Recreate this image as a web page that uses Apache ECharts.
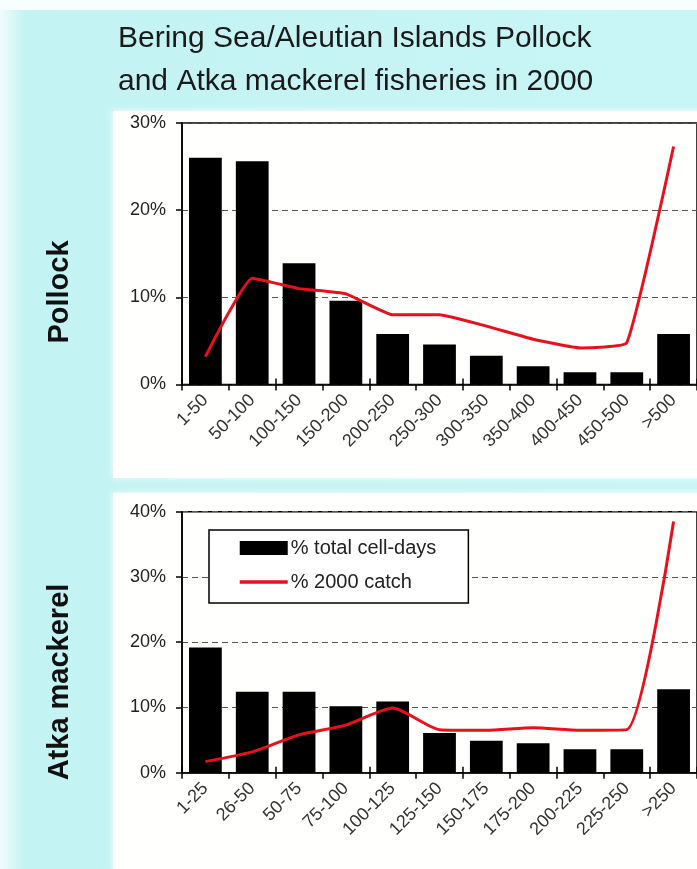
<!DOCTYPE html>
<html>
<head>
<meta charset="utf-8">
<script src="https://cdn.jsdelivr.net/npm/echarts@6/dist/echarts.min.js"></script>
<style>
  html, body { margin: 0; padding: 0; background: #ffffff; }
  #chart { width: 697px; height: 869px; }
</style>
</head>
<body>
<div id="chart"></div>
<script>
// ---- Data ----
const titleLines = ['Bering Sea/Aleutian Islands Pollock', 'and Atka mackerel fisheries in 2000'];
const seriesNames = ['% total cell-days', '% 2000 catch'];

const pollockCats = ['1-50', '50-100', '100-150', '150-200', '200-250', '250-300', '300-350', '350-400', '400-450', '450-500', '>500'];
const pollockCellDays = [26.0, 25.6, 13.9, 9.6, 5.8, 4.6, 3.3, 2.1, 1.4, 1.4, 5.8];
const pollockCatch = [3.2, 12.2, 11.0, 10.4, 8.0, 8.0, 6.7, 5.2, 4.2, 4.8, 27.3];

const atkaCats = ['1-25', '26-50', '50-75', '75-100', '100-125', '125-150', '150-175', '175-200', '200-225', '225-250', '>250'];
const atkaCellDays = [19.2, 12.4, 12.4, 10.2, 10.9, 6.1, 4.9, 4.5, 3.6, 3.6, 12.8];
const atkaCatch = [1.7, 3.2, 5.8, 7.3, 9.9, 6.6, 6.5, 6.9, 6.5, 6.6, 38.5];

const pollockYTicks = { min: 0, max: 30, interval: 10 };
const atkaYTicks = { min: 0, max: 40, interval: 10 };

// ---- Styles ----
const FONT = '"Liberation Sans", Arial, sans-serif';
const RED = '#e8101c';
const CYAN = '#c4f3f3';

const chart = echarts.init(document.getElementById('chart'), null, { renderer: 'canvas' });

function xAxes(cats, gridIndex) {
  return [
    {
      type: 'category', gridIndex, data: cats, position: 'bottom',
      axisLine: { lineStyle: { color: '#000', width: 1.5 } },
      axisTick: { show: true, length: 6, inside: false, lineStyle: { color: '#000', width: 1.5 } },
      axisLabel: { rotate: 45, fontSize: 18, color: '#333', fontFamily: FONT, margin: 13, interval: 0 },
      splitLine: { show: false }
    },
    {
      type: 'category', gridIndex, data: cats, position: 'bottom',
      axisLine: { show: false },
      axisTick: { show: true, length: 6, inside: true, lineStyle: { color: '#000', width: 1.5 } },
      axisLabel: { show: false },
      splitLine: { show: false }
    }
  ];
}

function yAxis(t, gridIndex) {
  return {
    type: 'value', gridIndex, min: t.min, max: t.max, interval: t.interval,
    axisLine: { show: true, lineStyle: { color: '#000', width: 1.5 } },
    axisTick: { show: true, length: 6, lineStyle: { color: '#000', width: 1.5 } },
    axisLabel: { formatter: '{value}%', fontSize: 18, color: '#222', fontFamily: FONT, margin: 16 },
    splitLine: { show: true, lineStyle: { color: '#555', type: [6, 4], width: 1 } }
  };
}

const option = {
  animation: false,
  backgroundColor: 'transparent',
  graphic: [
    { type: 'rect', z: -10, shape: { x: 0, y: 0, width: 697, height: 869 },
      style: { fill: new echarts.graphic.LinearGradient(0, 0, 1, 0, [
        { offset: 0, color: '#eefcfc' }, { offset: 0.035, color: CYAN }, { offset: 1, color: '#c8f5f5' }]) } },
    { type: 'rect', z: -9, shape: { x: 0, y: 0, width: 697, height: 10 }, style: { fill: '#f6fefe' } },
    { type: 'rect', z: -8, shape: { x: 113, y: 111, width: 590, height: 367 },
      style: { fill: '#fffffd', shadowBlur: 6, shadowColor: 'rgba(255,255,255,0.9)' } },
    { type: 'rect', z: -8, shape: { x: 113, y: 493, width: 590, height: 380 },
      style: { fill: '#fffffd', shadowBlur: 6, shadowColor: 'rgba(255,255,255,0.9)' } },
    { type: 'text', left: 118, top: 24, style: { text: titleLines[0], font: '30px ' + FONT, fill: '#1a1a1a' } },
    { type: 'text', left: 118, top: 67, style: { text: titleLines[1], font: '30px ' + FONT, fill: '#1a1a1a' } },
    { type: 'text', x: 60, y: 292, rotation: Math.PI / 2,
      style: { text: 'Pollock', font: 'bold 29px ' + FONT, fill: '#111', align: 'center', verticalAlign: 'middle' } },
    { type: 'text', x: 60, y: 682, rotation: Math.PI / 2,
      style: { text: 'Atka mackerel', font: 'bold 29px ' + FONT, fill: '#111', align: 'center', verticalAlign: 'middle' } }
  ],
  legend: {
    data: [
      { name: seriesNames[0], icon: 'rect' },
      { name: seriesNames[1], itemStyle: { opacity: 0 }, lineStyle: { width: 3.5, color: RED } }
    ],
    orient: 'vertical',
    left: 209, top: 530,
    padding: [8, 32, 11, 29],
    itemGap: 14,
    itemWidth: 48, itemHeight: 14,
    backgroundColor: '#fff',
    borderColor: '#000', borderWidth: 1.5,
    textStyle: { fontSize: 20, color: '#222', fontFamily: FONT, padding: [0, 0, 0, -2] }
  },
  grid: [
    { left: 182, top: 123, right: -9, height: 261.5, show: true, borderColor: '#000', borderWidth: 1.5, backgroundColor: 'transparent' },
    { left: 182, top: 511.7, right: -9, height: 261, show: true, borderColor: '#000', borderWidth: 1.5, backgroundColor: 'transparent' }
  ],
  xAxis: [...xAxes(pollockCats, 0), ...xAxes(atkaCats, 1)],
  yAxis: [yAxis(pollockYTicks, 0), yAxis(atkaYTicks, 1)],
  series: [
    { name: seriesNames[0], type: 'bar', xAxisIndex: 0, yAxisIndex: 0, data: pollockCellDays,
      barWidth: '70%', itemStyle: { color: '#000' } },
    { name: seriesNames[1], type: 'line', xAxisIndex: 0, yAxisIndex: 0, data: pollockCatch,
      smooth: 0.12, symbol: 'none', lineStyle: { color: RED, width: 3 }, itemStyle: { color: RED }, z: 5 },
    { name: seriesNames[0], type: 'bar', xAxisIndex: 2, yAxisIndex: 1, data: atkaCellDays,
      barWidth: '70%', itemStyle: { color: '#000' } },
    { name: seriesNames[1], type: 'line', xAxisIndex: 2, yAxisIndex: 1, data: atkaCatch,
      smooth: 0.2, symbol: 'none', lineStyle: { color: RED, width: 3 }, itemStyle: { color: RED }, z: 5 }
  ]
};

chart.setOption(option);
</script>
</body>
</html>
